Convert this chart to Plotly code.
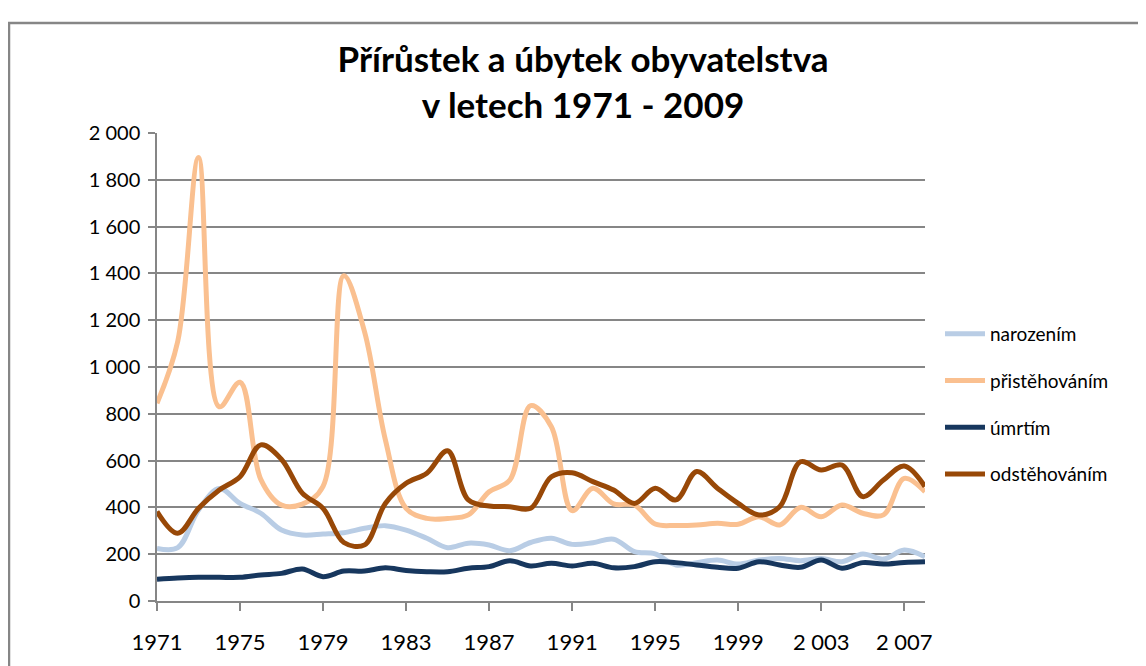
import plotly.graph_objects as go

years = list(range(1971, 2009))

narozenim = [225, 228, 389, 481, 417, 375, 303, 282, 286, 292,
             311, 322, 303, 268, 228, 247, 239, 215, 250, 268,
             242, 249, 264, 211, 201, 154, 164, 175, 158, 175,
             182, 172, 182, 168, 201, 179, 218, 189]

pristehovanim = [845, 1110, 1895, 830, 935, 520, 410, 414, 490, 1390,
                 1150, 690, 396, 353, 353, 368, 467, 517, 835, 745,
                 386, 482, 415, 410, 329, 323, 325, 332, 328, 360,
                 325, 400, 360, 410, 375, 368, 524, 467]

umrtim = [93, 98, 101, 101, 101, 111, 118, 137, 104, 128,
          128, 142, 130, 125, 125, 140, 147, 172, 150, 161,
          150, 161, 142, 147, 168, 164, 154, 144, 140, 168,
          154, 144, 175, 140, 164, 158, 165, 168]

odstehovanim = [382, 289, 396, 474, 531, 667, 605, 461, 396, 250,
                240, 417, 503, 546, 642, 432, 406, 403, 396, 531,
                548, 510, 474, 417, 482, 432, 553, 482, 417, 368,
                403, 595, 560, 581, 446, 517, 577, 489]

series_names = ["narozením", "přistěhováním", "úmrtím", "odstěhováním"]
series_values = [narozenim, pristehovanim, umrtim, odstehovanim]
series_colors = ["#B9CDE5", "#FAC090", "#17375E", "#984807"]

x_tick_vals = [1971, 1975, 1979, 1983, 1987, 1991, 1995, 1999, 2003, 2007]
x_tick_text = ["1971", "1975", "1979", "1983", "1987", "1991", "1995", "1999", "2 003", "2 007"]
y_tick_vals = list(range(0, 2001, 200))

FONT = "Lato, Open Sans, sans-serif"

# The page body has an 8px margin, so the figure is drawn 8px smaller and
# all page coordinates are shifted by OFF.
OFF = 8
W, H = 1146 - OFF, 666 - OFF
L, R, T, B = 157 - OFF, W - (925 - OFF), 133 - OFF, H - (601 - OFF)
pw, ph = W - L - R, H - T - B


def px_x(px):
    return (px - OFF - L) / pw


def px_y(py):
    return (H - B - (py - OFF)) / ph


fig = go.Figure()
for name, vals, col in zip(series_names, series_values, series_colors):
    fig.add_trace(go.Scatter(
        x=years, y=vals, name=name, mode="lines",
        line=dict(color=col, width=5, shape="spline", smoothing=1.0),
        legendgroup=name,
    ))

fig.update_layout(
    width=W, height=H,
    margin=dict(l=L, r=R, t=T, b=B),
    paper_bgcolor="white", plot_bgcolor="white",
    separators=", ",
    font=dict(family=FONT, size=19, color="#000000"),
    title=dict(
        text="<b>Přírůstek a úbytek obyvatelstva</b><br><b>v letech 1971 - 2009</b>",
        x=(583 - OFF) / W, xref="container", xanchor="center",
        y=1 - (72 - OFF) / H, yref="container", yanchor="top",
        font=dict(family=FONT, size=35, color="#000000"),
    ),
    xaxis=dict(
        range=[1971, 2008],
        tickvals=x_tick_vals, ticktext=x_tick_text,
        showgrid=False, zeroline=False,
        showline=True, linecolor="#868686", linewidth=1.5,
        ticks="outside", ticklen=8, tickcolor="#868686", tickwidth=1.5,
        tickfont=dict(family=FONT, size=22, color="#000000"),
        ticklabelstandoff=13,
    ),
    yaxis=dict(
        range=[0, 2000],
        tickvals=y_tick_vals, tickformat=",d",
        showgrid=True, gridcolor="#868686", gridwidth=1.5,
        zeroline=False,
        showline=True, linecolor="#868686", linewidth=1.5,
        ticks="outside", ticklen=7, tickcolor="#868686", tickwidth=1.5,
        tickfont=dict(family=FONT, size=20, color="#000000"),
        ticklabelstandoff=4,
    ),
    legend=dict(
        x=px_x(940), xanchor="left",
        y=px_y(404), yanchor="middle",
        font=dict(family=FONT, size=19, color="#000000"),
        tracegroupgap=19,
        bgcolor="rgba(0,0,0,0)",
        itemwidth=40,
    ),
    showlegend=True,
)

fig.add_shape(
    type="rect", xref="paper", yref="paper",
    x0=px_x(9), x1=px_x(1170), y0=px_y(690), y1=px_y(23),
    line=dict(color="#868686", width=2.5), fillcolor="rgba(0,0,0,0)",
    layer="below",
)

fig.write_html("out.html")
